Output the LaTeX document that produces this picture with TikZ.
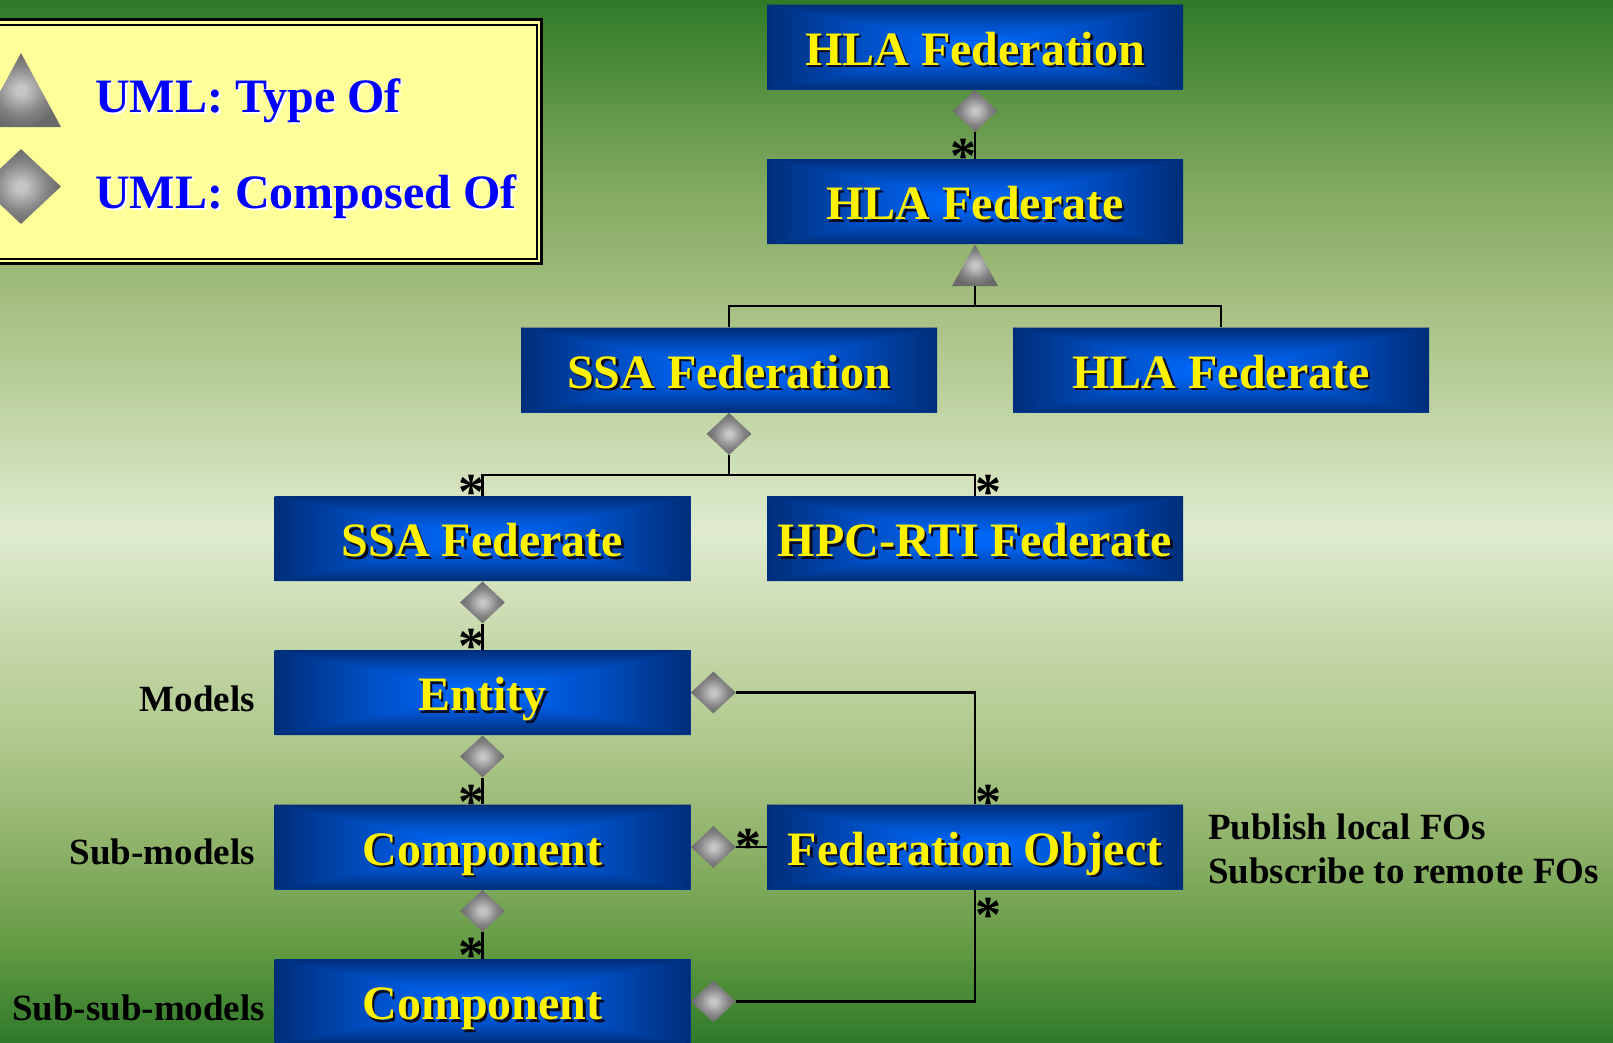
\documentclass[tikz,border=0pt]{standalone}
\usepackage{fontspec}
\setmainfont{Liberation Serif}
\usetikzlibrary{shapes.geometric}
\definecolor{bg0}{HTML}{2E7A28}
\definecolor{bg1}{HTML}{5C9446}
\definecolor{bg2}{HTML}{86AC64}
\definecolor{bg3}{HTML}{A4BE80}
\definecolor{bg4}{HTML}{C2D6A6}
\definecolor{bg5}{HTML}{E0EBD0}
\definecolor{bg6}{HTML}{C6D8AA}
\definecolor{bg7}{HTML}{ADC78A}
\definecolor{bg8}{HTML}{8DB168}
\definecolor{bg9}{HTML}{629A42}
\definecolor{bg10}{HTML}{2F7A2A}
\definecolor{bxA}{RGB}{0,45,120}
\definecolor{bxB}{RGB}{0,78,195}
\definecolor{bxC}{RGB}{0,102,245}
\definecolor{legfill}{HTML}{FFFF99}
\definecolor{dlight}{HTML}{C6C6C6}
\definecolor{dmid}{HTML}{858585}
\definecolor{ddark}{HTML}{6A6A6A}
\definecolor{txtshadow}{RGB}{10,10,30}
\pgfdeclareradialshading{diashade}{\pgfpoint{0bp}{0bp}}{color(0bp)=(dlight); color(3bp)=(dlight); color(16bp)=(dmid); color(25bp)=(ddark); color(50bp)=(ddark)}
\tikzset{
  boxnode/.style={minimum width=416pt, minimum height=85pt, inner sep=0pt, text height=36pt, text depth=0pt, text=yellow, font={\fontsize{48}{50}\selectfont\bfseries}},
  boxshadow/.style={inner sep=0pt, text height=36pt, text depth=0pt, text=txtshadow, font={\fontsize{48}{50}\selectfont\bfseries}},
  dia/.style={shape=diamond, minimum width=45pt, minimum height=42pt, inner sep=0pt, shade, shading=diashade},
  conn/.style={line width=2.5pt, draw=black},
  mult/.style={font={\fontsize{52}{52}\selectfont\bfseries}, inner sep=0pt, anchor=base, text=black},
  lbl/.style={font={\fontsize{37}{44}\selectfont\bfseries}, inner sep=0pt, text=black},
  legtext/.style={font={\fontsize{48}{50}\selectfont\bfseries}, inner sep=0pt, anchor=base west, text=blue},
}
\newcommand\bluebox[4]{%
  \fill[bxB] (#2-208,#3-42.5) rectangle (#2+208,#3+42.5);
  \foreach \ta/\tb/\ca/\cb in {1/0.55/bxA/bxB,0.55/0.15/bxB/bxC}{%
    \pgfmathsetmacro\oxa{208*\ta}%
    \pgfmathsetmacro\oya{42.5*\ta}%
    \pgfmathsetmacro\oxb{208*\tb}%
    \pgfmathsetmacro\oyb{42.5*\tb}%
    \shade[top color=\ca,bottom color=\cb] (#2-\oxa,#3-\oya) -- (#2+\oxa,#3-\oya) -- (#2+\oxb,#3-\oyb) -- (#2-\oxb,#3-\oyb) -- cycle;
    \shade[top color=\cb,bottom color=\ca] (#2-\oxb,#3+\oyb) -- (#2+\oxb,#3+\oyb) -- (#2+\oxa,#3+\oya) -- (#2-\oxa,#3+\oya) -- cycle;
    \shade[left color=\ca,right color=\cb] (#2-\oxa,#3-\oya) -- (#2-\oxb,#3-\oyb) -- (#2-\oxb,#3+\oyb) -- (#2-\oxa,#3+\oya) -- cycle;
    \shade[left color=\cb,right color=\ca] (#2+\oxb,#3-\oyb) -- (#2+\oxa,#3-\oya) -- (#2+\oxa,#3+\oya) -- (#2+\oxb,#3+\oyb) -- cycle;
  }%
  \fill[bxC] (#2-31.2,#3-6.375) rectangle (#2+31.2,#3+6.375);
  \node[boxshadow] (#1-sh) at (#2+2.5,#3+2.5) {#4};
  \node[boxnode] (#1) at (#2,#3) {#4};
}
\newcommand\mstar[3]{\node[mult] (#1) at (#2,#3+25) {*};}
\begin{document}
\begin{tikzpicture}[x=1pt,y=-1pt]
\useasboundingbox (0,0) rectangle (1613,1042);
\clip (0,0) rectangle (1613,1042);
% background
\foreach \ya/\yb/\ca/\cb in {0/100/bg0/bg1,100/200/bg1/bg2,200/300/bg2/bg3,300/420/bg3/bg4,420/530/bg4/bg5,530/640/bg5/bg6,640/750/bg6/bg7,750/850/bg7/bg8,850/950/bg8/bg9,950/1042/bg9/bg10}
  \shade[top color=\ca,bottom color=\cb] (-2,\ya-0.5) rectangle (1615,\yb+0.5);
% legend
\fill[legfill] (-10,18) rectangle (543,265);
\draw[line width=3pt] (-10,19.5) rectangle (541.5,263.5);
\draw[line width=2pt] (-10,24.5) rectangle (536.5,258.5);
\shade[shading=diashade] (21,53) -- (61,127) -- (-19,127) -- cycle;
\node[dia, minimum width=80pt, minimum height=75pt] (legdia) at (21,186.5) {};
\node[legtext, text=white] (lt1s) at (97,114) {UML: Type Of};
\node[legtext] (lt1) at (95,112) {UML: Type Of};
\node[legtext, text=white] (lt2s) at (97,210) {UML: Composed Of};
\node[legtext] (lt2) at (95,208) {UML: Composed Of};
% boxes
\bluebox{hfed}{975}{47}{HLA Federation}
\bluebox{hfte}{975}{201.5}{HLA Federate}
\bluebox{ssafed}{729}{370}{SSA Federation}
\bluebox{hfte2}{1221}{370}{HLA Federate}
\bluebox{ssafte}{482.5}{538.5}{SSA Federate}
\bluebox{hpc}{975}{538.5}{HPC-RTI Federate}
\bluebox{ent}{482.5}{692.5}{Entity}
\bluebox{comp}{482.5}{847}{Component}
\bluebox{fo}{975}{847}{Federation Object}
\bluebox{comp2}{482.5}{1001.5}{Component}
% connectors
\node[dia, anchor=north] (d1) at (hfed.south) {};
\draw[conn] (d1.south) -- (hfte.north);
\shade[shading=diashade] (975,244.5) -- (998,286) -- (952,286) -- cycle;
\coordinate (t1) at (975,286);
\coordinate (j1) at (975,306);
\draw[conn] (t1) -- (j1);
\draw[conn] (ssafed.north) |- (j1) -| (hfte2.north);
\node[dia, anchor=north] (d2) at (ssafed.south) {};
\coordinate (j2) at (729,475);
\draw[conn] (d2.south) -- (j2);
\draw[conn] (ssafte.north) |- (j2) -| (hpc.north);
\node[dia, anchor=north] (d3) at (ssafte.south) {};
\draw[conn] (d3.south) -- (ent.north);
\node[dia, anchor=north] (d4) at (ent.south) {};
\draw[conn] (d4.south) -- (comp.north);
\node[dia, anchor=north] (d5) at (comp.south) {};
\draw[conn] (d5.south) -- (comp2.north);
\node[dia, anchor=west] (d6) at (ent.east) {};
\draw[conn] (d6.east) -| (fo.north);
\node[dia, anchor=west] (d7) at (comp.east) {};
\draw[conn] (d7.east) -- (fo.west);
\node[dia, anchor=west] (d8) at (comp2.east) {};
\draw[conn] (d8.east) -| (fo.south);
% multiplicities
\mstar{s1}{963}{148}
\mstar{s2}{471}{484}
\mstar{s3}{988}{484}
\mstar{s4}{471}{638}
\mstar{s5}{471}{794}
\mstar{s6}{471}{947}
\mstar{s7}{988}{794}
\mstar{s8}{748}{838}
\mstar{s9}{988}{907}
% side labels
\node[lbl, anchor=base east] (lm) at (255,711) {Models};
\node[lbl, anchor=base east] (lsm) at (255,864) {Sub-models};
\node[lbl, anchor=base west] (lssm) at (12,1020) {Sub-sub-models};
\node[lbl, anchor=base west] (pub) at (1208,839) {Publish local FOs};
\node[lbl, anchor=base west] (sub) at (1208,883) {Subscribe to remote FOs};
\end{tikzpicture}
\end{document}
